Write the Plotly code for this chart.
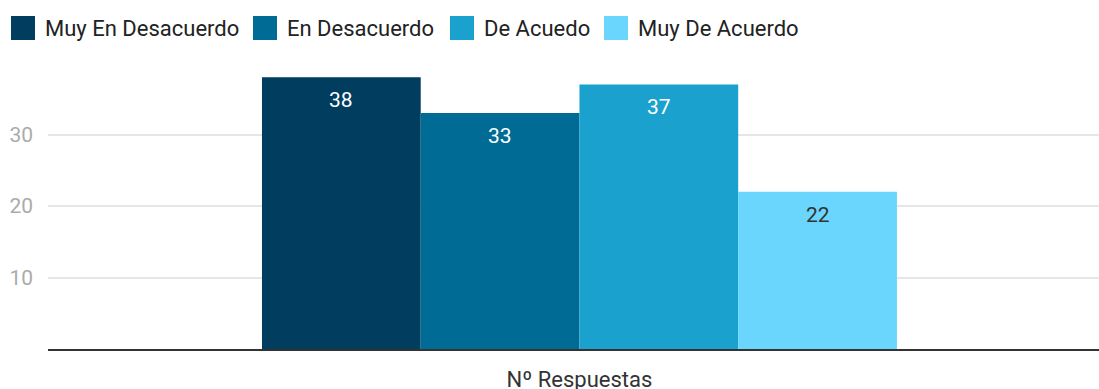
import plotly.graph_objects as go

# Survey answers: one bar per response level
categories = ["Muy En Desacuerdo", "En Desacuerdo", "De Acuedo", "Muy De Acuerdo"]
values = [38, 33, 37, 22]
colors = ["#003d5f", "#006b95", "#1aa1ce", "#6ad6fe"]
label_colors = ["#ffffff", "#ffffff", "#ffffff", "#333333"]
group_label = "Nº Respuestas"
y_ticks = [10, 20, 30]

W, H = 1099, 389
ML, MR, MT, MB = 48, 0, 63, 40
PW, PH = W - ML - MR, H - MT - MB


def px_x(p):
    return (p - ML) / PW


def px_y(p):
    return (H - MB - p) / PH


FONT = "Roboto"
fig = go.Figure()

positions = list(range(len(categories)))
for i, (cat, val, col) in enumerate(zip(categories, values, colors)):
    fig.add_trace(go.Bar(
        x=[positions[i]], y=[val], width=1.0, name=cat,
        marker=dict(color=col, line=dict(width=0)),
        showlegend=False, hoverinfo="skip",
    ))
    fig.add_annotation(
        x=positions[i], y=val, xref="x", yref="y", text=str(val),
        showarrow=False, yanchor="middle", yshift=-23,
        font=dict(family=FONT, size=21, color=label_colors[i]),
    )

# Custom legend row across the top
legend_square_left = [11, 253, 450, 604]
sq = 24
for i, cat in enumerate(categories):
    x0 = legend_square_left[i]
    fig.add_shape(
        type="rect", xref="paper", yref="paper",
        x0=px_x(x0), x1=px_x(x0 + sq), y0=px_y(16), y1=px_y(16 + sq),
        fillcolor=colors[i], line=dict(width=0), layer="above",
    )
    fig.add_annotation(
        x=px_x(x0 + sq + 8), y=px_y(28), xref="paper", yref="paper",
        text=cat, showarrow=False, xanchor="left", yanchor="middle",
        font=dict(family=FONT, size=22, color="#222222"),
    )

center = (len(categories) - 1) / 2
fig.update_layout(
    width=W, height=H,
    margin=dict(l=ML, r=MR, t=MT, b=MB, pad=0, autoexpand=False),
    paper_bgcolor="white", plot_bgcolor="white",
    barmode="overlay", showlegend=False,
    font=dict(family=FONT),
    xaxis=dict(
        range=[-1.848, 4.773], tickvals=[center], ticktext=[group_label],
        showgrid=False, zeroline=False, showline=True,
        linecolor="#333333", linewidth=2, ticks="",
        ticklabelstandoff=10, automargin=False,
        tickfont=dict(family=FONT, size=22, color="#333333"),
        fixedrange=True,
    ),
    yaxis=dict(
        range=[0, 40], tickvals=y_ticks, showgrid=True,
        gridcolor="#e6e6e6", gridwidth=2, zeroline=False, showline=False,
        ticks="", ticklabelstandoff=14, automargin=False,
        tickfont=dict(family=FONT, size=21, color="#ababab"),
        fixedrange=True,
    ),
)

fig.write_html("out.html", config={"displayModeBar": False})
